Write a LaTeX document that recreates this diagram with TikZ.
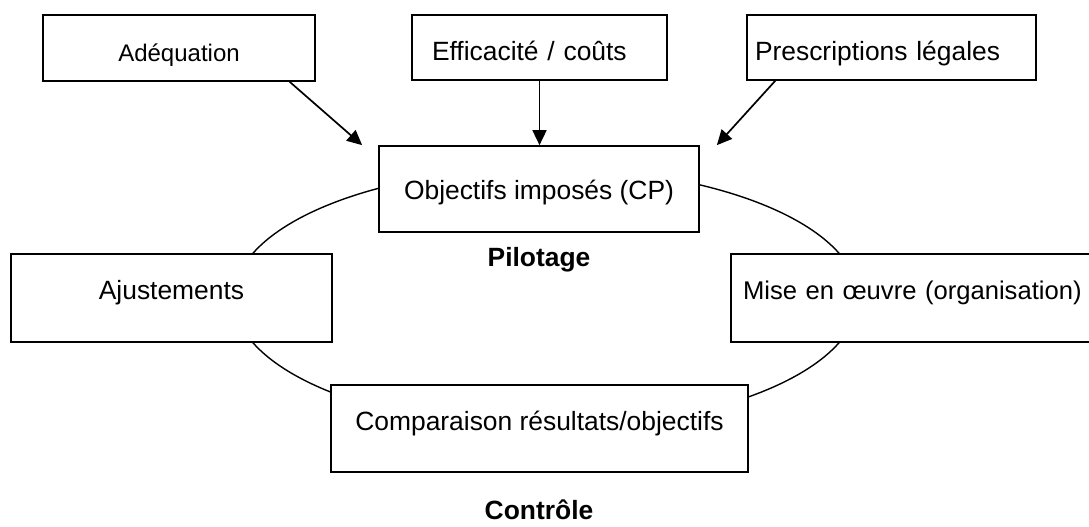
\documentclass[tikz,border=0pt]{standalone}
\usepackage{fontspec}
\setmainfont{Liberation Sans}
\usetikzlibrary{arrows.meta,positioning}

\begin{document}
\begin{tikzpicture}[x=1pt,y=-1pt,
        boite/.style={draw,line width=1.7pt,fill=white,inner sep=0pt,font=\fontsize{26.4}{30}\selectfont},
        haut/.style={text height=32pt,text depth=5pt},
        rond/.style={text height=19pt,text depth=16pt},
        fleche/.style={line width=1.7pt,-{Triangle[length=15pt,width=14pt]}},
        titre/.style={font=\fontsize{26.4}{30}\selectfont\bfseries}]
                \useasboundingbox (0,0) rectangle (1089,527);
                \clip (0,0) rectangle (1089,527);

                \draw[line width=1.4pt] (546,298) ellipse [x radius=312,y radius=130];

                \node[boite,haut,minimum width=272pt,minimum height=66pt,font=\fontsize{24}{28}\selectfont] (ade) at (179,48) {Adéquation};
                \node[boite,haut,text width=215pt,align=left,inner xsep=20pt,minimum height=65pt] (eff) at (539.5,47.5) {Efficacité / coûts};
                \node[boite,haut,text width=273pt,align=left,inner xsep=8pt,minimum height=65pt] (presc) at (891.5,47.5) {Prescriptions légales};

                \node[boite,text height=25pt,text depth=5pt,minimum width=320pt,minimum height=86pt] (obj) at (539,189) {Objectifs imposés (CP)};
                \node[boite,rond,minimum width=321pt,minimum height=88pt] (ajust) at (171.5,298) {Ajustements};
                \node[boite,rond,text width=380pt,align=left,inner xsep=12pt,minimum height=88pt,font=\fontsize{25.6}{30}\selectfont] (mise) at (933,298) {Mise en œuvre (organisation)};
                \node[boite,rond,minimum width=417pt,minimum height=87pt] (comp) at (539.5,428.5) {Comparaison résultats/objectifs};

                \node[titre] (pil) at (539,260) {Pilotage};
                \node[titre] (ctrl) at (539,510) {Contrôle};

                % bouts des fleches
                \coordinate[left=16pt of obj.north west] (obj-g);
                \coordinate[right=17pt of obj.north east] (obj-d);

                \draw[fleche] (ade.-17) -- (obj-g);
                \draw[fleche] (eff.south) -- (eff.south |- obj.north);
                \draw[fleche] (presc.196) -- (obj-d);
            \end{tikzpicture}
\end{document}
